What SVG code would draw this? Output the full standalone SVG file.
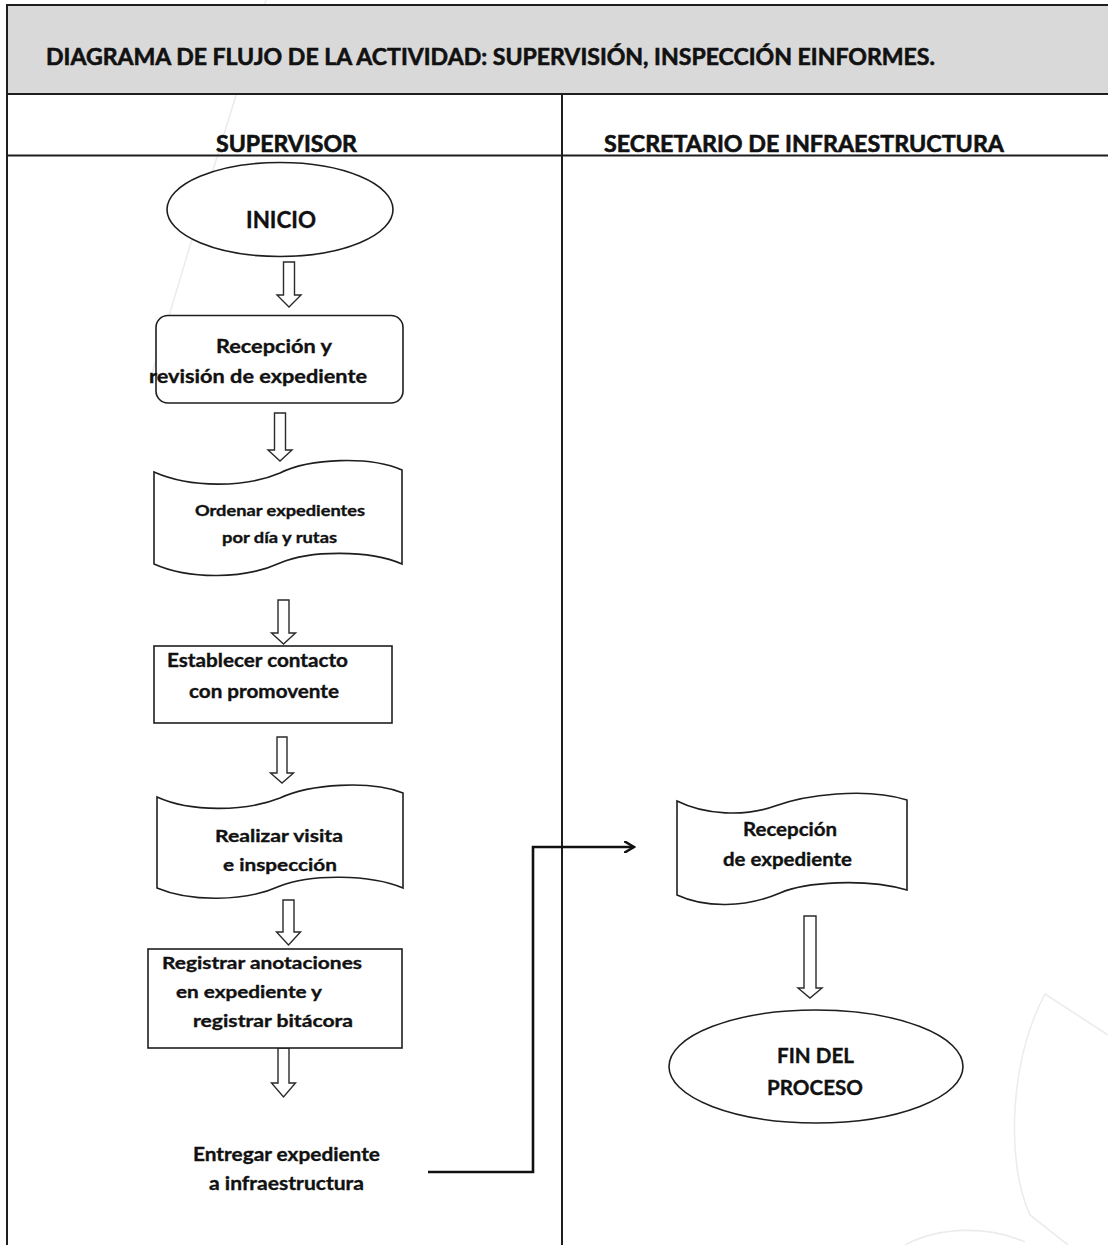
<svg xmlns="http://www.w3.org/2000/svg" width="1108" height="1245" viewBox="0 0 1108 1245">
  <style>
    .grid { stroke: #1e1e1e; stroke-width: 2; fill: none; }
    .shape { fill: #ffffff; stroke: #1e1e1e; stroke-width: 1.6; }
    .blk { fill: #ffffff; stroke: #2a2a2a; stroke-width: 1.4; }
    .t { font-family: Lato, "Open Sans", "Liberation Sans", sans-serif; font-weight: 700; fill: #111111; stroke: #111111; stroke-width: 0.35; }
    .h { stroke-width: 0.6; }
    .conn { fill: none; stroke: #111111; stroke-width: 2.6; }
    .wm { fill: none; stroke: #ececec; stroke-width: 1.6; }
  </style>
  <defs>
    <marker id="chev" markerWidth="12" markerHeight="12" refX="10" refY="6" orient="auto" markerUnits="userSpaceOnUse" viewBox="0 0 12 12">
      <path d="M0,0 L10,6 L0,12" fill="none" stroke="#111111" stroke-width="2.4"/>
    </marker>
  </defs>

  <rect width="1108" height="1245" fill="#ffffff"/>

  <!-- faint background watermark strokes -->
  <g id="watermark">
    <path class="wm" d="M266,0 Q215,160 150,380"/>
    <path class="wm" d="M1108,1035 L1045,994 C1010,1060 1005,1160 1030,1215 L1068,1245"/>
    <path class="wm" d="M905,1245 C940,1226 990,1226 1025,1242"/>
  </g>

  <!-- table frame -->
  <g id="table">
    <rect x="7" y="5" width="1101" height="89" fill="#d9d9d9"/>
    <path class="grid" d="M7,1245 V5 H1108 M7,94 H1108 M7,155.5 H1108 M562,94 V1245"/>
    <text class="t h" x="46" y="65" font-size="23" textLength="889" lengthAdjust="spacingAndGlyphs">DIAGRAMA DE FLUJO DE LA ACTIVIDAD: SUPERVISIÓN, INSPECCIÓN EINFORMES.</text>
    <text class="t h" x="216" y="151.5" font-size="23" textLength="141" lengthAdjust="spacingAndGlyphs">SUPERVISOR</text>
    <text class="t h" x="604" y="151.5" font-size="23" textLength="400" lengthAdjust="spacingAndGlyphs">SECRETARIO DE INFRAESTRUCTURA</text>
  </g>

  <!-- connectors -->
  <g id="connectors">
    <path class="blk" d="M283.5,262 H294.5 V295 H301 L289,307 L277,295 H283.5 Z"/>
    <path class="blk" d="M274.5,413 H285.5 V450 H292 L280,461 L268,450 H274.5 Z"/>
    <path class="blk" d="M278,600 H289 V633 H295.5 L283.5,644 L271.5,633 H278 Z"/>
    <path class="blk" d="M277,737 H287 V773 H293.5 L282,783 L270.5,773 H277 Z"/>
    <path class="blk" d="M283,900 H294 V932 H300.5 L288.5,945 L276.5,932 H283 Z"/>
    <path class="blk" d="M278,1048 H289 V1083 H295.5 L283.5,1097 L271.5,1083 H278 Z"/>
    <path class="blk" d="M804,916 H816 V988 H822 L810,998 L798,988 H804 Z"/>
    <path class="conn" d="M428,1172 H533 V847 H634" marker-end="url(#chev)"/>
  </g>

  <g id="inicio">
    <ellipse class="shape" cx="280" cy="209.5" rx="113" ry="47"/>
    <text class="t" x="246" y="228" font-size="23" textLength="70" lengthAdjust="spacingAndGlyphs">INICIO</text>
  </g>

  <g id="recepcion-revision">
    <rect class="shape" x="156" y="315.5" width="247" height="87.5" rx="12"/>
    <text class="t" x="216" y="352.5" font-size="19" textLength="116" lengthAdjust="spacingAndGlyphs">Recepción y</text>
    <text class="t" x="149" y="382.5" font-size="19" textLength="218" lengthAdjust="spacingAndGlyphs">revisión de expediente</text>
  </g>

  <g id="ordenar">
    <path class="shape" d="M154,472 C190,488 245,488 280,473 C310,458 370,456 402,470 V564 C370,550 310,550 280,563 C245,579 190,580 154,564 Z"/>
    <text class="t" x="195" y="516" font-size="15" textLength="170" lengthAdjust="spacingAndGlyphs">Ordenar expedientes</text>
    <text class="t" x="222" y="543" font-size="15" textLength="115" lengthAdjust="spacingAndGlyphs">por día y rutas</text>
  </g>

  <g id="establecer">
    <rect class="shape" x="154" y="646" width="238" height="77"/>
    <text class="t" x="167" y="666.5" font-size="18.5" textLength="181" lengthAdjust="spacingAndGlyphs">Establecer contacto</text>
    <text class="t" x="189" y="698" font-size="18.5" textLength="150" lengthAdjust="spacingAndGlyphs">con promovente</text>
  </g>

  <g id="visita">
    <path class="shape" d="M157,797 C190,812 245,812 280,798 C310,784 370,780 403,793 V888 C370,874 310,874 280,886 C245,902 190,902 157,888 Z"/>
    <text class="t" x="215" y="842" font-size="17.5" textLength="128" lengthAdjust="spacingAndGlyphs">Realizar visita</text>
    <text class="t" x="223" y="870.5" font-size="17.5" textLength="114" lengthAdjust="spacingAndGlyphs">e inspección</text>
  </g>

  <g id="registrar">
    <rect class="shape" x="148" y="949" width="254" height="99"/>
    <text class="t" x="162" y="969" font-size="17" textLength="200" lengthAdjust="spacingAndGlyphs">Registrar anotaciones</text>
    <text class="t" x="176" y="998" font-size="17" textLength="146" lengthAdjust="spacingAndGlyphs">en expediente y</text>
    <text class="t" x="193" y="1026.5" font-size="17" textLength="160" lengthAdjust="spacingAndGlyphs">registrar bitácora</text>
  </g>

  <g id="entregar">
    <text class="t" x="193" y="1160.5" font-size="18.5" textLength="187" lengthAdjust="spacingAndGlyphs">Entregar expediente</text>
    <text class="t" x="209" y="1190" font-size="18.5" textLength="155" lengthAdjust="spacingAndGlyphs">a infraestructura</text>
  </g>

  <g id="recepcion-expediente">
    <path class="shape" d="M677,801 C705,815 745,817 775,806 C805,795 865,787 907,800 V890 C865,878 805,882 780,893 C745,908 705,908 677,895 Z"/>
    <text class="t" x="743" y="836" font-size="18.5" textLength="94" lengthAdjust="spacingAndGlyphs">Recepción</text>
    <text class="t" x="723" y="866" font-size="18.5" textLength="129" lengthAdjust="spacingAndGlyphs">de expediente</text>
  </g>

  <g id="fin">
    <ellipse class="shape" cx="816" cy="1066.5" rx="147" ry="56.5"/>
    <text class="t" x="777" y="1063" font-size="21" textLength="77" lengthAdjust="spacingAndGlyphs">FIN DEL</text>
    <text class="t" x="767" y="1095" font-size="21" textLength="96" lengthAdjust="spacingAndGlyphs">PROCESO</text>
  </g>
</svg>
